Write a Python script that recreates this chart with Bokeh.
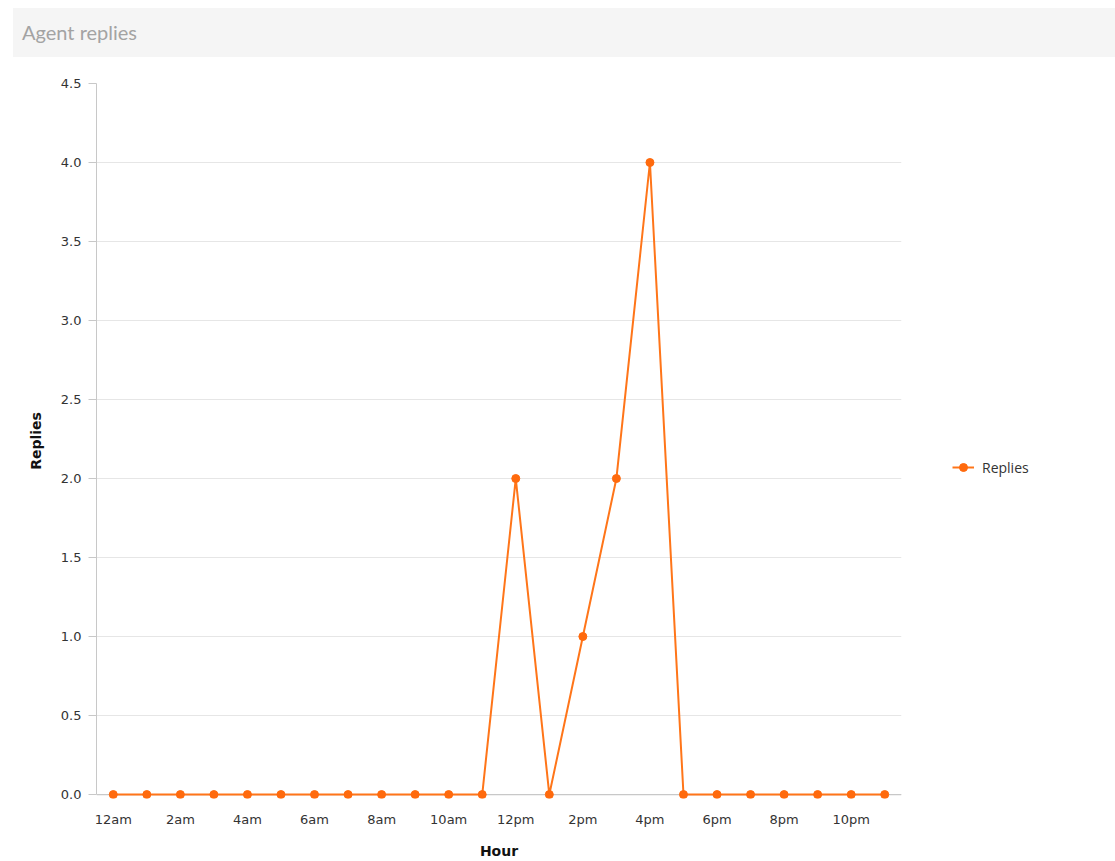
from bokeh.plotting import figure
from bokeh.models import (ColumnDataSource, Div, FixedTicker, Legend, LegendItem,
                          PrintfTickFormatter, Range1d, Span)
from bokeh.layouts import column, row
from bokeh.embed import file_html
from bokeh.resources import INLINE

title_text = "Agent replies"
hour_labels = ["12am", "1am", "2am", "3am", "4am", "5am", "6am", "7am", "8am", "9am",
               "10am", "11am", "12pm", "1pm", "2pm", "3pm", "4pm", "5pm", "6pm", "7pm",
               "8pm", "9pm", "10pm", "11pm"]
hours = list(range(24))
replies = [0, 0, 0, 0, 0, 0, 0, 0, 0, 0, 0, 0, 2, 0, 1, 2, 4, 0, 0, 0, 0, 0, 0, 0]
y_ticks = [0, 0.5, 1, 1.5, 2, 2.5, 3, 3.5, 4, 4.5]
series_name = "Replies"
x_label = "Hour"
y_label = "Replies"

LINE = "#ff7519"
DOT = "#ff6a0d"
AXIS = "#c8c8c8"

header = Div(text=title_text, width=1102, height=49, margin=(8, 0, 0, 13),
             styles={"background-color": "#f5f5f5", "font-family": "Lato",
                     "font-size": "20px", "color": "#a3a3a3", "line-height": "49px",
                     "padding-left": "9px", "box-sizing": "border-box"})

src = ColumnDataSource(dict(x=hours, y=replies, label=hour_labels))

p = figure(width=910, height=804, output_backend="svg", toolbar_location=None,
           x_range=Range1d(-0.5, 23.5), y_range=Range1d(-0.025, 4.5),
           min_border_left=96, min_border_right=9, min_border_top=26,
           min_border_bottom=62)
p.outline_line_color = None
p.background_fill_color = "white"

baseline = Span(location=0, dimension="width", line_color=AXIS, line_width=1.2,
                level="underlay")
p.add_layout(baseline)

r_line = p.line("x", "y", source=src, line_color=LINE, line_width=2)
r_dot = p.scatter("x", "y", source=src, size=8, fill_color=DOT, line_color=DOT)

# x axis
p.xaxis.ticker = FixedTicker(ticks=hours[::2])
p.xaxis.major_label_overrides = {h: lab for h, lab in zip(hours, hour_labels)}
p.xaxis.axis_line_color = None
p.xaxis.major_tick_line_color = None
p.xaxis.minor_tick_line_color = None
p.xaxis.major_label_text_font = "DejaVu Sans"
p.xaxis.major_label_text_font_size = "13px"
p.xaxis.major_label_text_color = "#333333"
p.xaxis.major_label_standoff = 7
p.xaxis.axis_label = x_label
p.xaxis.axis_label_text_font = "DejaVu Sans"
p.xaxis.axis_label_text_font_size = "14px"
p.xaxis.axis_label_text_font_style = "bold"
p.xaxis.axis_label_text_color = "#111111"
p.xaxis.axis_label_standoff = 13

# y axis
p.yaxis.ticker = FixedTicker(ticks=y_ticks)
p.yaxis.bounds = (0, 4.5)
p.yaxis.formatter = PrintfTickFormatter(format="%.1f")
p.yaxis.axis_line_color = AXIS
p.yaxis.major_tick_line_color = AXIS
p.yaxis.major_tick_in = 0
p.yaxis.major_tick_out = 8
p.yaxis.minor_tick_line_color = None
p.yaxis.major_label_text_font = "DejaVu Sans"
p.yaxis.major_label_text_font_size = "13px"
p.yaxis.major_label_text_color = "#333333"
p.yaxis.major_label_standoff = 7
p.yaxis.axis_label = y_label
p.yaxis.axis_label_text_font = "DejaVu Sans"
p.yaxis.axis_label_text_font_size = "14px"
p.yaxis.axis_label_text_font_style = "bold"
p.yaxis.axis_label_text_color = "#111111"
p.yaxis.axis_label_standoff = 14

p.xgrid.grid_line_color = None
p.ygrid.grid_line_color = "#e6e6e6"
p.ygrid.grid_line_width = 1

# legend panel: a small figure that shows only the legend (its view range
# lies outside the data, so the series itself is not visible there)
pl = figure(width=205, height=804, output_backend="svg", toolbar_location=None,
            x_range=Range1d(1000, 1001), y_range=Range1d(1000, 1001),
            x_axis_location=None, y_axis_location=None,
            min_border_left=0, min_border_right=0, min_border_top=0,
            min_border_bottom=0)
pl.outline_line_color = None
pl.xgrid.visible = False
pl.ygrid.visible = False
lg_line = pl.line("x", "y", source=src, line_color=LINE, line_width=2)
lg_dot = pl.scatter("x", "y", source=src, size=8, fill_color=DOT, line_color=DOT)
legend = Legend(items=[LegendItem(label=series_name, renderers=[lg_line, lg_dot])],
                location=(42, 321), border_line_color=None,
                background_fill_alpha=0,
                label_text_font="Open Sans", label_text_font_size="14px",
                label_text_color="#333333", glyph_width=22, label_standoff=8,
                padding=0, margin=0)
pl.add_layout(legend, "center")

layout = column(header, row(p, pl, spacing=0), spacing=0)
open("out.html", "w").write(file_html(layout, INLINE))
